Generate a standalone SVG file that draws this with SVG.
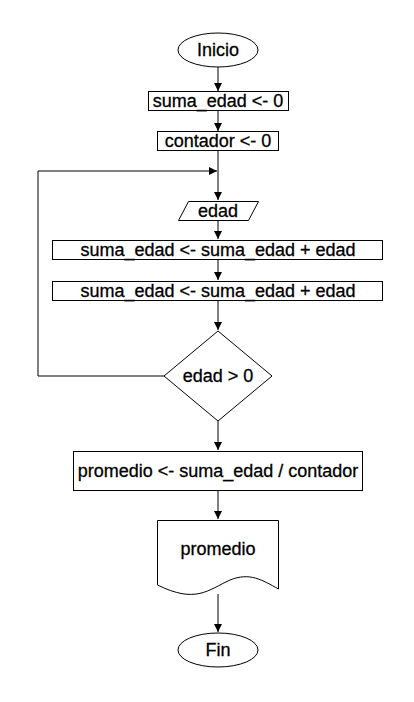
<svg xmlns="http://www.w3.org/2000/svg" width="414" height="702" viewBox="0 0 414 702">
<style>
.s{fill:#fff;stroke:#000;stroke-width:1}
.t{font-family:"Liberation Sans",Arial,sans-serif;font-size:18px;fill:#000;stroke:#000;stroke-width:0.3;text-anchor:middle;dominant-baseline:central}
.c{fill:none;stroke:#000;stroke-width:1}
</style>
<defs>
<marker id="a" markerWidth="10" markerHeight="10" refX="9" refY="5" orient="auto" markerUnits="userSpaceOnUse">
<path d="M1,1 L9,5 L1,9 Z" fill="#000"/>
</marker>
</defs>
<rect width="414" height="702" fill="#fff"/>
<g id="connectors">
<path class="c" d="M218,67 V91" marker-end="url(#a)"/>
<path class="c" d="M218,111 V131" marker-end="url(#a)"/>
<path class="c" d="M218,151 V200" marker-end="url(#a)"/>
<path class="c" d="M218,220 V239" marker-end="url(#a)"/>
<path class="c" d="M218,260 V280" marker-end="url(#a)"/>
<path class="c" d="M218,301 V330" marker-end="url(#a)"/>
<path class="c" d="M164,376 H38 V171 H217" marker-end="url(#a)"/>
<path class="c" d="M218,421 V450" marker-end="url(#a)"/>
<path class="c" d="M218,491 V519" marker-end="url(#a)"/>
<path class="c" d="M218,594 V632" marker-end="url(#a)"/>
</g>
<g id="inicio"><ellipse class="s" cx="218" cy="50" rx="40" ry="17"/><text class="t" x="218" y="50">Inicio</text></g>
<g id="suma0"><rect class="s" x="148.5" y="91.5" width="140" height="19"/><text class="t" x="218" y="101">suma_edad &lt;- 0</text></g>
<g id="contador0"><rect class="s" x="157.5" y="131.5" width="121" height="19"/><text class="t" x="218" y="141">contador &lt;- 0</text></g>
<g id="leer"><polygon class="s" points="188.5,201.5 258.5,201.5 248.5,220.5 178.5,220.5"/><text class="t" x="218" y="211">edad</text></g>
<g id="asig1"><rect class="s" x="52.5" y="240.5" width="330" height="19"/><text class="t" x="218" y="250">suma_edad &lt;- suma_edad + edad</text></g>
<g id="asig2"><rect class="s" x="52.5" y="281.5" width="330" height="19"/><text class="t" x="218" y="291">suma_edad &lt;- suma_edad + edad</text></g>
<g id="cond"><polygon class="s" points="218,331 272,376 218,421 164,376"/><text class="t" x="218" y="376">edad &gt; 0</text></g>
<g id="prom"><rect class="s" x="73.5" y="451.5" width="289" height="39"/><text class="t" x="218" y="471">promedio &lt;- suma_edad / contador</text></g>
<g id="salida"><path class="s" d="M157.5,520.5 H278.5 V589 C262,580 250,572 230,580 C208,590 196,604 157.5,585 Z"/><text class="t" x="218" y="549">promedio</text></g>
<g id="fin"><ellipse class="s" cx="218" cy="650" rx="40" ry="17"/><text class="t" x="218" y="650">Fin</text></g>
</svg>
